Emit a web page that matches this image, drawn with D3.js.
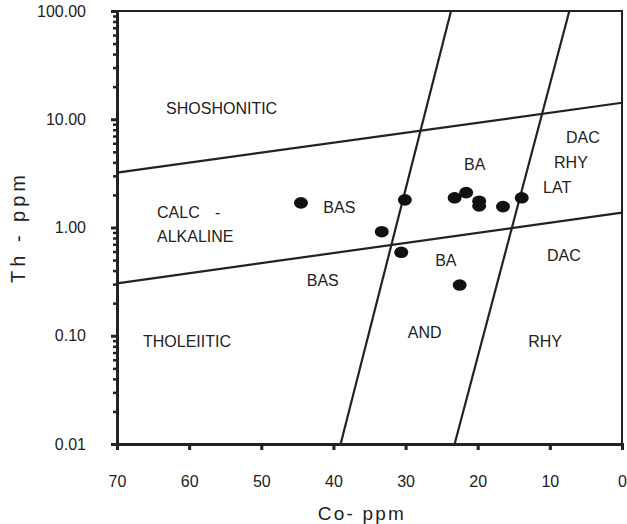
<!DOCTYPE html>
<html>
<head>
<meta charset="utf-8">
<script src="https://cdn.jsdelivr.net/npm/d3@7"></script>
<style>
  html, body { margin: 0; padding: 0; background: #fff; }
  svg text { font-family: "Liberation Sans", Arial, Helvetica, sans-serif; fill: #222; }
</style>
</head>
<body>
<svg id="chart" width="627" height="524"></svg>
<script>
// Th–Co discrimination diagram (Co reversed on x, Th on a log scale)

// x-axis tick values (Co, ppm)
const coTicks = [70, 60, 50, 40, 30, 20, 10, 0];
// y-axis decade ticks (Th, ppm)
const thTicks = [0.01, 0.1, 1, 10, 100];

// Sample analyses
const sampleCo = [44.5, 30.1, 23.2, 21.6, 19.8, 19.8, 16.5, 13.9, 33.3, 30.6, 22.5];
const sampleTh = [1.69, 1.80, 1.88, 2.10, 1.75, 1.58, 1.56, 1.88, 0.915, 0.59, 0.294];

// Field boundaries: [Co, Th] end points
const shoshoniticBoundary = [[70, 3.21], [0, 14.2]];
const tholeiiticBoundary  = [[70, 0.305], [0, 1.37]];
const basaltBoundary      = [[39.0, 0.01], [23.7, 100]];
const daciteBoundary      = [[23.2, 0.01], [7.3, 100]];

// Field names and their anchor points [text, Co, Th]
const fieldNames = ["SHOSHONITIC", "CALC", "-", "ALKALINE", "BAS", "BAS", "BA", "BA", "AND", "RHY", "DAC", "DAC", "RHY", "LAT", "THOLEIITIC"];
const fieldCo    = [63.2, 64.45, 56.4, 64.45, 41.4, 43.7, 21.9, 25.9, 29.7, 13.0, 10.4, 7.76, 9.42, 10.95, 66.4];
const fieldTh    = [12.7, 1.39, 1.39, 0.835, 1.55, 0.327, 3.86, 0.501, 0.108, 0.0894, 0.557, 6.86, 4.03, 2.37, 0.0894];

const plot = { left: 117, right: 622, top: 11, bottom: 444 };
const ink = "#222";
const font = "'Liberation Sans', Arial, sans-serif";

const svg = d3.select("#chart");

const x = d3.scaleLinear().domain([70, 0]).range([plot.left, plot.right]);
const y = d3.scaleLog().domain([0.01, 100]).range([plot.bottom, plot.top]);

// Frame: top and right borders
svg.append("path")
  .attr("d", `M${plot.left},${plot.top}H${plot.right}V${plot.bottom}`)
  .attr("fill", "none").attr("stroke", ink).attr("stroke-width", 2);

// Field boundary lines
const line = d3.line().x(d => x(d[0])).y(d => y(d[1]));
[shoshoniticBoundary, tholeiiticBoundary, basaltBoundary, daciteBoundary].forEach(b => {
  svg.append("path").attr("d", line(b))
    .attr("fill", "none").attr("stroke", ink).attr("stroke-width", 2.2);
});

// x axis
const xAxis = svg.append("g").attr("transform", `translate(0,${plot.bottom})`)
  .call(d3.axisBottom(x).tickValues(coTicks).tickFormat(d3.format("d")).tickSize(6));
xAxis.select(".domain").attr("stroke", ink).attr("stroke-width", 3);
xAxis.selectAll(".tick line").attr("stroke", ink).attr("stroke-width", 3);
xAxis.selectAll(".tick text")
  .attr("y", 43).attr("dy", null)
  .attr("font-size", 16).attr("font-family", font).style("fill", ink);

// y axis: minor log ticks, then labelled decades
const minor = [];
for (let d = 0.01; d < 100; d *= 10) for (let k = 2; k <= 9; k++) minor.push(+(d * k).toPrecision(3));
const yMinor = svg.append("g").attr("transform", `translate(${plot.left},0)`)
  .call(d3.axisLeft(y).tickValues(minor).tickFormat("").tickSize(4));
yMinor.select(".domain").remove();
yMinor.selectAll(".tick line").attr("stroke", ink).attr("stroke-width", 2.5);

const yAxis = svg.append("g").attr("transform", `translate(${plot.left},0)`)
  .call(d3.axisLeft(y).tickValues(thTicks).tickFormat(d3.format(".2f")).tickSize(6));
yAxis.select(".domain").attr("stroke", ink).attr("stroke-width", 3);
yAxis.selectAll(".tick line").attr("stroke", ink).attr("stroke-width", 3);
yAxis.selectAll(".tick text")
  .attr("x", -31).attr("text-anchor", "end")
  .attr("font-size", 16).attr("font-family", font).style("fill", ink);

// Axis titles
svg.append("text").attr("x", 362).attr("y", 520).attr("text-anchor", "middle")
  .attr("font-size", 19).attr("letter-spacing", 2.2).text("Co- ppm");
svg.append("text").attr("transform", "translate(25,227) rotate(-90)").attr("text-anchor", "middle")
  .attr("font-size", 20).attr("letter-spacing", 4).text("Th - ppm");

// Field names
svg.append("g").selectAll("text").data(fieldNames).join("text")
  .attr("x", (d, i) => x(fieldCo[i]))
  .attr("y", (d, i) => y(fieldTh[i]) + 5.8)
  .attr("font-size", 16)
  .text(d => d);

// Samples
svg.append("g").selectAll("ellipse").data(sampleCo).join("ellipse")
  .attr("cx", (d, i) => x(d))
  .attr("cy", (d, i) => y(sampleTh[i]))
  .attr("rx", 7).attr("ry", 5.8)
  .attr("fill", "#111");
</script>
</body>
</html>
